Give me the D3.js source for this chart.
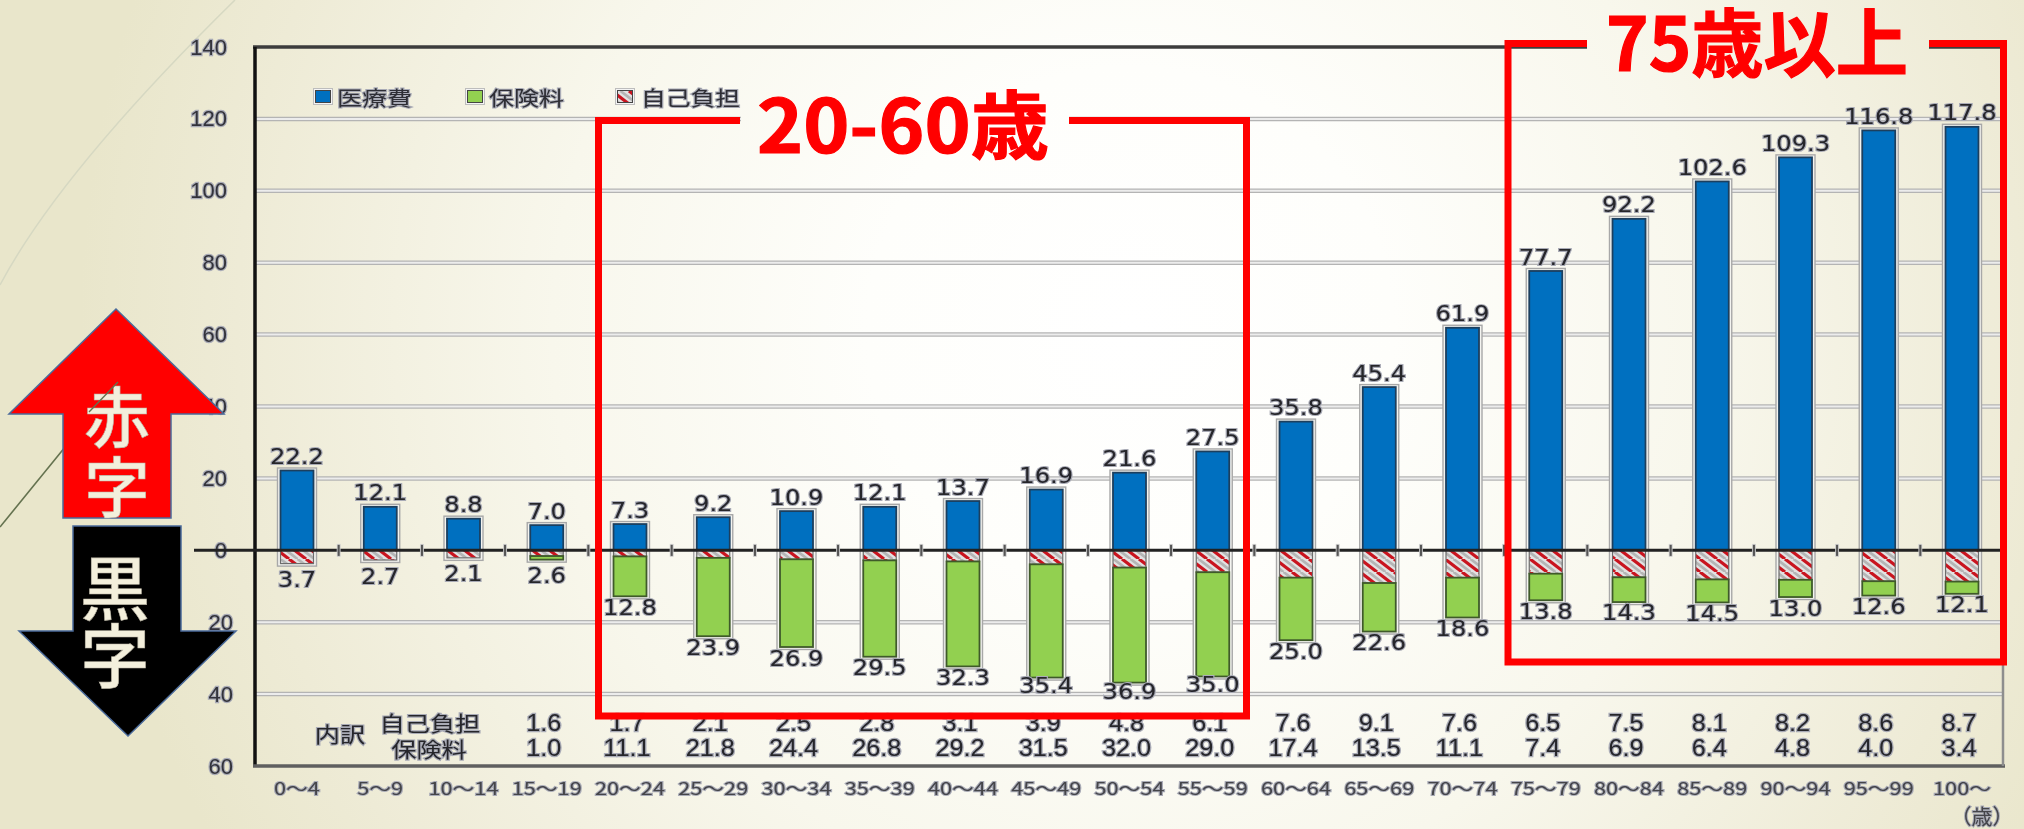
<!DOCTYPE html>
<html lang="ja"><head><meta charset="utf-8">
<script src="https://cdnjs.cloudflare.com/ajax/libs/d3/7.8.5/d3.min.js"></script>
<style>html,body{margin:0;padding:0;background:#f6f5ea;overflow:hidden}svg{display:block}</style>
</head><body><div id="c"></div>
<script>
const categories=["0〜4","5〜9","10〜14","15〜19","20〜24","25〜29","30〜34","35〜39","40〜44","45〜49","50〜54","55〜59","60〜64","65〜69","70〜74","75〜79","80〜84","85〜89","90〜94","95〜99","100〜"];
const medical=[22.2,12.1,8.8,7.0,7.3,9.2,10.9,12.1,13.7,16.9,21.6,27.5,35.8,45.4,61.9,77.7,92.2,102.6,109.3,116.8,117.8];
const selfPay=[3.7,2.7,2.1,1.6,1.7,2.1,2.5,2.8,3.1,3.9,4.8,6.1,7.6,9.1,7.6,6.5,7.5,8.1,8.2,8.6,8.7];
const premium=[0,0,0,1.0,11.1,21.8,24.4,26.8,29.2,31.5,32.0,29.0,17.4,13.5,11.1,7.4,6.9,6.4,4.8,4.0,3.4];
const negTotal=[3.7,2.7,2.1,2.6,12.8,23.9,26.9,29.5,32.3,35.4,36.9,35.0,25.0,22.6,18.6,13.8,14.3,14.5,13.0,12.6,12.1];
const selfPayText=["","","","1.6","1.7","2.1","2.5","2.8","3.1","3.9","4.8","6.1","7.6","9.1","7.6","6.5","7.5","8.1","8.2","8.6","8.7"];
const premiumText=["","","","1.0","11.1","21.8","24.4","26.8","29.2","31.5","32.0","29.0","17.4","13.5","11.1","7.4","6.9","6.4","4.8","4.0","3.4"];
const yTicks=[140,120,100,80,60,40,20,0,-20,-40,-60];
const legendItems=["医療費","保険料","自己負担"];

const W=2024,H=829;
const svg=d3.select("#c").append("svg").attr("width",W).attr("height",H);
const defs=svg.append("defs");
const bg=defs.append("radialGradient").attr("id","bg").attr("gradientUnits","userSpaceOnUse")
  .attr("cx",1130).attr("cy",330).attr("r",1050);
[[0,"#ffffff"],[.25,"#fefefb"],[.55,"#f8f7ec"],[.85,"#eeebd6"],[1,"#e9e6cb"]].forEach(s=>bg.append("stop").attr("offset",s[0]).attr("stop-color",s[1]));
const pat=defs.append("pattern").attr("id","hatch").attr("patternUnits","userSpaceOnUse").attr("width",17).attr("height",13);
pat.append("rect").attr("width",17).attr("height",13).attr("fill","#e2e2e2");
[[-17,0],[0,0],[17,0]].forEach(o=>{
  pat.append("line").attr("x1",o[0]).attr("y1",0).attr("x2",o[0]+17).attr("y2",13).attr("stroke","#c9141f").attr("stroke-width",3.2);
  pat.append("line").attr("x1",o[0]+8.5).attr("y1",0).attr("x2",o[0]+25.5).attr("y2",13).attr("stroke","#b5b5b5").attr("stroke-width",2.6);
});
defs.append("filter").attr("id","soft").attr("x","-10%").attr("y","-10%").attr("width","120%").attr("height","120%")
  .append("feGaussianBlur").attr("stdDeviation",.5);

svg.append("rect").attr("width",W).attr("height",H).attr("fill","url(#bg)");
// faint theme curves of the slide
svg.append("path").attr("d","M235,0 Q60,172 0,285").attr("fill","none").attr("stroke","#d6d8c2").attr("stroke-width",1.5);
svg.append("line").attr("x1",118).attr("y1",382).attr("x2",0).attr("y2",527).attr("stroke","#64724f").attr("stroke-width",1.6);

const y=d3.scaleLinear().domain([-60,140]).range([766,47]);
const x=d3.scalePoint().domain(categories).range([297,1962]);
const plotL=255,plotR=2003,barW=33;
const FONT="'DejaVu Sans',sans-serif",CJK="'Noto Sans CJK JP',sans-serif",LAT="'Liberation Sans',sans-serif";

function label(g,tx,ty,str,o={}){
  return g.append("text").attr("transform",`translate(${tx},${ty}) scale(${o.sx||1.1},1)`)
    .attr("text-anchor",o.anchor||"middle").attr("dominant-baseline","central")
    .attr("font-family",o.font||FONT).attr("font-size",o.size||22).attr("font-weight",o.weight||"normal")
    .attr("fill",o.fill||"#26262c").attr("stroke",o.halo||"#a9abb6").attr("stroke-width",o.hw==null?2.2:o.hw)
    .attr("paint-order","stroke").text(str);
}

const grid=svg.append("g");
const gridVals=yTicks.filter(v=>v!==0&&v!==140&&v!==-60);
grid.selectAll("line.o").data(gridVals).join("line")
  .attr("x1",plotL).attr("x2",plotR).attr("y1",d=>y(d)).attr("y2",d=>y(d)).attr("stroke","#b4b4b4").attr("stroke-width",4.5);
grid.selectAll("line.i").data(gridVals).join("line")
  .attr("x1",plotL).attr("x2",plotR).attr("y1",d=>y(d)).attr("y2",d=>y(d)).attr("stroke","#ececec").attr("stroke-width",2);

// frame
svg.append("line").attr("x1",plotL-2).attr("x2",plotR).attr("y1",y(140)).attr("y2",y(140)).attr("stroke","#3c3c3c").attr("stroke-width",3.5);
svg.append("line").attr("x1",plotL).attr("x2",plotL).attr("y1",y(140)).attr("y2",y(-60)).attr("stroke","#111").attr("stroke-width",3.5);
svg.append("line").attr("x1",plotL-2).attr("x2",plotR+2).attr("y1",y(-60)).attr("y2",y(-60)).attr("stroke","#5f5f5f").attr("stroke-width",3.5);
svg.append("line").attr("x1",plotR).attr("x2",plotR).attr("y1",y(140)).attr("y2",y(-60)).attr("stroke","#8e8e8e").attr("stroke-width",2.5);

// y axis labels
const yl=svg.append("g").attr("filter","url(#soft)");
yTicks.forEach(v=>label(yl,v<0?233:227,y(v),String(Math.abs(v)),{anchor:"end",sx:1,font:LAT,size:22,hw:2.4,fill:"#33333a"}));

// bars
const n=categories.length;
const halo=svg.append("g");
categories.forEach((c,i)=>{
  halo.append("rect").attr("x",x(c)-barW/2-3).attr("width",barW+6)
    .attr("y",y(medical[i])-2.5).attr("height",y(-(selfPay[i]+premium[i]))-y(medical[i])+5)
    .attr("fill","#f4f4f0").attr("stroke","#a8a8a8").attr("stroke-width",1.4);
});
const bars=svg.append("g");
bars.selectAll("rect.m").data(categories).join("rect").attr("class","m")
  .attr("x",d=>x(d)-barW/2).attr("width",barW)
  .attr("y",(d,i)=>y(medical[i])).attr("height",(d,i)=>y(0)-y(medical[i]))
  .attr("fill","#0070c0").attr("stroke","#1c3f5e").attr("stroke-width",1.8);
bars.selectAll("rect.s").data(categories).join("rect").attr("class","s")
  .attr("x",d=>x(d)-barW/2).attr("width",barW)
  .attr("y",y(0)).attr("height",(d,i)=>y(-selfPay[i])-y(0))
  .attr("fill","url(#hatch)").attr("stroke","#6d6d6d").attr("stroke-width",1.2);
bars.selectAll("rect.p").data(categories).join("rect").attr("class","p")
  .attr("x",d=>x(d)-barW/2).attr("width",barW)
  .attr("y",(d,i)=>y(-selfPay[i])).attr("height",(d,i)=>y(-(selfPay[i]+premium[i]))-y(-selfPay[i]))
  .attr("fill","#92d050").attr("stroke","#3f5a2a").attr("stroke-width",1.8)
  .attr("display",(d,i)=>premium[i]>0?null:"none");

// zero line and ticks
svg.append("line").attr("x1",194).attr("x2",plotR).attr("y1",y(0)).attr("y2",y(0)).attr("stroke","#222").attr("stroke-width",3);
const step=x.step();
svg.selectAll("rect.t").data(categories.slice(0,n-1)).join("rect").attr("class","t")
  .attr("x",d=>x(d)+step/2-1.5).attr("width",3).attr("y",y(0)-6).attr("height",12)
  .attr("fill","#555").attr("stroke","#d6d6d6").attr("stroke-width",.8);

// data labels
const dl=svg.append("g").attr("filter","url(#soft)");
categories.forEach((c,i)=>{
  label(dl,x(c),y(medical[i])-14,medical[i].toFixed(1));
  const b=y(-negTotal[i]);
  const off=negTotal[i]<6?16:(negTotal[i]>34?8:11);
  label(dl,x(c),b+off,negTotal[i].toFixed(1));
});

// breakdown table
const tb=svg.append("g").attr("filter","url(#soft)");
const tblOpts={sx:1.1,font:LAT,size:23,hw:2.4};
categories.forEach((c,i)=>{
  if(selfPayText[i]) label(tb,x(c)-3,723,selfPayText[i],tblOpts);
  if(premiumText[i]) label(tb,x(c)-3,748,premiumText[i],tblOpts);
  label(tb,x(c),788,c,{sx:1.28,font:CJK,size:17,hw:1.9,fill:"#44444a"});
});
const tj={font:CJK,size:21,sx:1.2,hw:2.2};
label(tb,340,733,"内訳",tj);
label(tb,430,722,"自己負担",tj);
label(tb,429,748,"保険料",tj);
label(tb,1982,815,"（歳）",{font:CJK,size:21,sx:1.0,hw:2,fill:"#44444a"});

// legend
const leg=svg.append("g");
const swatch=["#0070c0","#92d050","url(#hatch)"];
const swX=[315,467,617], txX=[337,489,641], lenS=[75,75,99];
legendItems.forEach((t,i)=>{
  leg.append("rect").attr("x",swX[i]-1.5).attr("y",88.5).attr("width",19).attr("height",16).attr("fill","#f4f4f4").attr("stroke","#bdbdbd");
  leg.append("rect").attr("x",swX[i]+.5).attr("y",90.5).attr("width",15).attr("height",12).attr("fill",swatch[i]).attr("stroke","#444").attr("stroke-width",1);
  leg.append("text").attr("x",txX[i]).attr("y",97).attr("dominant-baseline","central")
    .attr("font-family",CJK).attr("font-size",20).attr("fill","#2e2e34")
    .attr("stroke","#a9abb6").attr("stroke-width",2).attr("paint-order","stroke")
    .attr("textLength",lenS[i]).attr("lengthAdjust","spacingAndGlyphs").attr("filter","url(#soft)").text(t);
});

// annotation boxes (background patches hide the gridlines under the titles)
const RED="#ff0000";
svg.append("rect").attr("x",741).attr("y",96).attr("width",328).attr("height",40).attr("fill","url(#bg)");
svg.append("rect").attr("x",1587).attr("y",30).attr("width",342).attr("height",30).attr("fill","url(#bg)");
const box=svg.append("g").attr("fill","none").attr("stroke",RED).attr("stroke-width",7);
box.append("path").attr("d","M740,120.5 H598.5 V716 H1246.5 V120.5 H1069");
box.append("path").attr("d","M1587,43.5 H1508 V662 H2003.5 V43.5 H1929");
const title=(tx,ty,s,len)=>svg.append("text").attr("x",tx).attr("y",ty)
  .attr("font-family",CJK).attr("font-weight",700).attr("font-size",74).attr("fill",RED)
  .attr("stroke",RED).attr("stroke-width",1.2).attr("textLength",len).attr("lengthAdjust","spacingAndGlyphs").text(s);
title(757,153,"20-60歳",292);
title(1606,71,"75歳以上",302);

// arrows
const arrow=(d,f)=>svg.append("path").attr("d",d).attr("fill",f).attr("stroke","#4a6a9a").attr("stroke-width",1.5);
arrow("M116,309 L224,414 H171 V518 H63 V414 H9 Z","#ff0000");
arrow("M73,526 H181 V631 H236 L128,736 L19,631 H73 Z","#000000");
const at=(tx,ty,s,size)=>svg.append("text").attr("x",tx).attr("y",ty).attr("text-anchor","middle").attr("dominant-baseline","central")
  .attr("font-family",CJK).attr("font-size",size).attr("font-weight",500).attr("fill","#f3efdc").attr("stroke","#b9b4a4").attr("stroke-width",.6).text(s);
at(117,413,"赤",66); at(117,483,"字",66);
at(115,584,"黒",70); at(115,652,"字",70);
svg.append("line").attr("x1",118).attr("y1",382).attr("x2",89).attr("y2",412).attr("stroke","#64724f").attr("stroke-width",1.4);
</script></body></html>
